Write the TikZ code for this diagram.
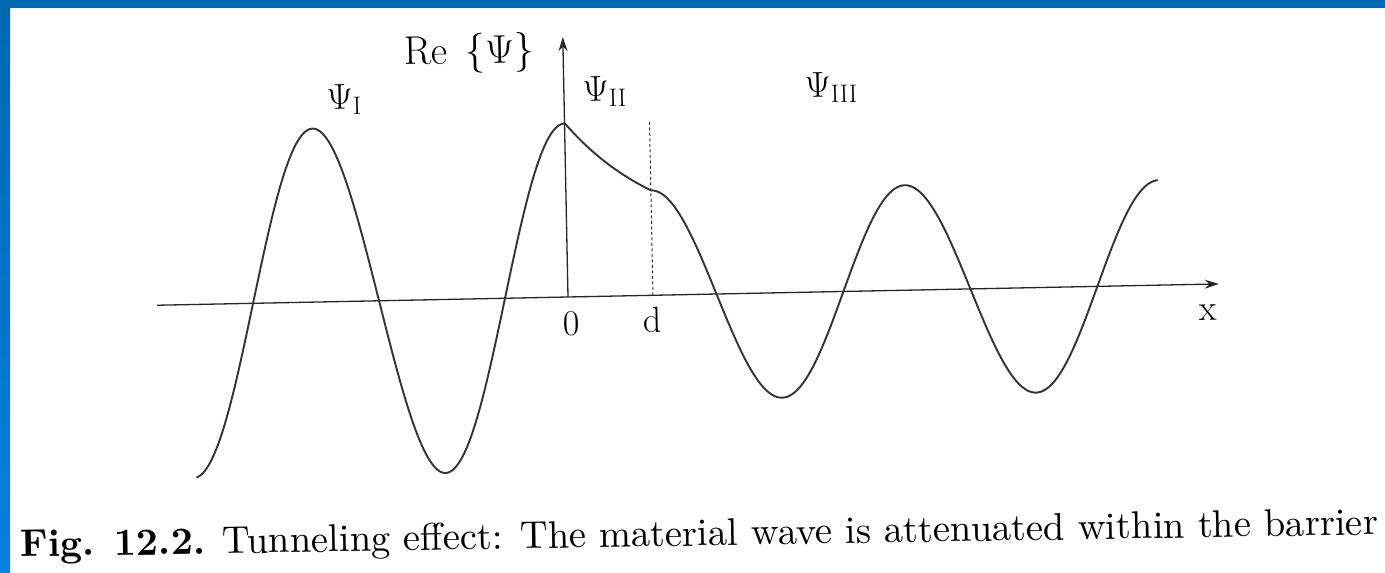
\RequirePackage{fix-cm}
\documentclass[tikz,border=0pt]{standalone}
\usepackage{graphicx}
\usetikzlibrary{arrows.meta}
\definecolor{frameblue}{RGB}{0,103,177}
\definecolor{framelight}{RGB}{8,128,224}
\tikzset{
  axisline/.style={line width=1.3pt, draw=black!85, -{Stealth[length=14pt,width=9pt]}},
  wave/.style={line width=1.9pt, draw=black!80, line join=round},
  dashline/.style={line width=1pt, draw=black!80, dash pattern=on 3pt off 2.5pt},
  lbl/.style={inner sep=0pt, font=\fontsize{36}{40}\selectfont, rotate=1.15}
}
\begin{document}
\begin{tikzpicture}[x=1pt,y=1pt]
\useasboundingbox (0,0) rectangle (1385,573);
\fill[white] (0,0) rectangle (1385,573);
% frame strips
\fill[frameblue] (0,565) rectangle (1385,573);
\shade[top color=frameblue, bottom color=framelight] (0,0) rectangle (10,573);

\begin{scope}[shift={(568,276)}, rotate=1.15]
  \coordinate (xl) at (-411,0);
  \coordinate (xr) at (651,0);
  \coordinate (o) at (0,0);
  \coordinate (yt) at (0,260);
  \coordinate (d0) at (85,0);
  \coordinate (d1) at (85,176);
  \draw[axisline] (xl) -- (xr);
  \draw[axisline] (o) -- (yt);
  \draw[dashline] (d0) -- (d1);
  \draw[wave] plot[domain=-375:0, samples=220] (\x, {173.5*cos(1.428571*\x)})
     -- plot[domain=0:85, samples=60] (\x, {53.5+120.5*exp(-\x/100)})
     -- plot[domain=85:592, samples=260] (\x, {105*cos(1.417323*(\x-85))});
\end{scope}

\node[lbl, anchor=base west, font=\fontsize{40}{44}\selectfont] (re) at (404,508) {Re\hspace{0.45em}\{$\Psi$\}};
\node[lbl, anchor=base west] (p1) at (327,463) {$\Psi_{\mathrm{I}}$};
\node[lbl, anchor=base west] (p2) at (583,471) {$\Psi_{\mathrm{II}}$};
\node[lbl, anchor=base west] (p3) at (805,475) {$\Psi_{\mathrm{III}}$};
\node[lbl, anchor=base] (zero) at (572,238) {0};
\node[lbl, anchor=base] (dl) at (653,241) {d};
\node[lbl, anchor=base] (xlab) at (1208,253) {x};

\node[inner sep=0pt, anchor=base west, rotate=0.95] (cap) at (20,16)
  {\resizebox{1358pt}{!}{\textbf{Fig. 12.2.} Tunneling effect: The material wave is attenuated within the barrier}};
\end{tikzpicture}
\end{document}
